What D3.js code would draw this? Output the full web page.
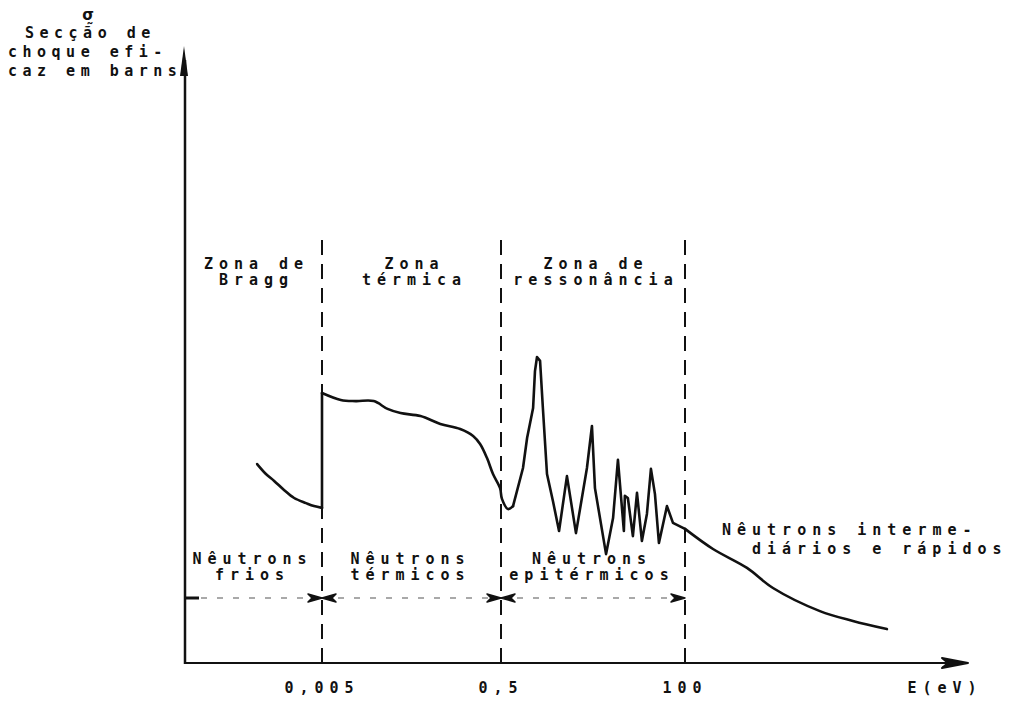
<!DOCTYPE html>
<html>
<head>
<meta charset="utf-8">
<script src="https://cdn.jsdelivr.net/npm/d3@7"></script>
<style>
  html, body { margin: 0; padding: 0; background: #fff; }
  svg { display: block; }
  .lbl { font-family: "DejaVu Sans Mono", "DejaVu Sans", monospace; font-weight: bold; font-size: 15px; fill: #111; letter-spacing: 6px; }
</style>
</head>
<body>
<svg id="chart" width="1021" height="701"></svg>
<script>
// Neutron energy (eV) and schematic cross-section sigma (barns, arbitrary units)
const energy = [0.00095, 0.00119, 0.00147, 0.00189, 0.00245, 0.00332, 0.00407, 0.005, 0.005,
  0.0081, 0.0119, 0.0189, 0.027, 0.0377, 0.063, 0.105, 0.175, 0.244, 0.292, 0.349, 0.407, 0.488,
  0.514, 0.612, 0.707, 0.942, 1.06, 1.26, 1.33, 1.41, 1.54, 1.67, 1.88, 2.23, 2.66, 3.34, 4.33,
  5.94, 6.86, 7.48, 10.3, 12.6, 14.5, 17.2, 17.7, 19.3, 22.3, 25.1, 28.9, 33.4, 37.5, 42.1, 47.2,
  59.5, 70.7, 84, 100, 224, 596, 1260, 4870, 12600, 33500];
const sigma = [6.63, 6.3, 6.07, 5.77, 5.5, 5.33, 5.23, 5.17, 9.0,
  8.77, 8.73, 8.73, 8.47, 8.33, 8.23, 7.97, 7.8, 7.57, 7.3, 6.83, 6.3, 5.83,
  5.47, 5.13, 5.23, 6.5, 7.5, 8.5, 9.73, 10.2, 10.07, 8.5, 6.3, 5.4, 4.4, 6.23, 4.33,
  6.5, 7.9, 5.83, 3.63, 4.83, 6.77, 4.4, 5.57, 5.5, 4.23, 5.67, 4.07, 4.97, 6.47, 5.63, 4.0,
  5.23, 4.67, 4.57, 4.47, 3.8, 3.17, 2.5, 1.73, 1.4, 1.13];

// Zone boundaries on the energy axis (eV) and their tick labels
const boundaries = [0.005, 0.5, 100];
const tickLabels = ["0,005", "0,5", "100"];
const axisEnds = [0.00015, 300000];
// Energy span drawn as a jagged resonance trace (eV)
const resonanceSpan = [0.707, 100];

const zoneNames = [["Zona de", "Bragg"], ["Zona", "térmica"], ["Zona de", "ressonância"]];
const neutronNames = [["Nêutrons", "frios"], ["Nêutrons", "térmicos"], ["Nêutrons", "epitérmicos"]];
const fastNames = ["Nêutrons interme-", "diários e rápidos"];
const yTitle = ["Secção de", "choque efi-", "caz em barns"];
const xTitle = "E(eV)";

const svg = d3.select("#chart");
const LS = 6; // letter spacing used by the labels

// Piecewise log scale: the schematic axis is not uniform across zones
const x = d3.scaleLog()
  .domain([axisEnds[0], boundaries[0], boundaries[1], boundaries[2], axisEnds[1]])
  .range([185, 322, 501, 685, 963]);
const y = d3.scaleLinear().domain([0, 20]).range([663, 63]);

const x0 = x(axisEnds[0]), y0 = y(0);

// Axes
svg.append("line").attr("x1", x0).attr("y1", y0 + 1).attr("x2", x0).attr("y2", 60)
  .attr("stroke", "#111").attr("stroke-width", 2.5);
svg.append("path").attr("d", `M${x0 - 1},46 L${x0 - 5},76 L${x0 + 3},76 Z`).attr("fill", "#111");
svg.append("line").attr("x1", x0 - 1).attr("y1", y0).attr("x2", 955).attr("y2", y0)
  .attr("stroke", "#111").attr("stroke-width", 2.2);
svg.append("path").attr("d", `M968,${y0} L942,${y0 - 5} L948,${y0} L942,${y0 + 5} Z`).attr("fill", "#111")
  .attr("stroke", "#111").attr("stroke-width", 2).attr("stroke-linejoin", "round");

// Zone boundaries (dashed)
svg.selectAll(".bound").data(boundaries).join("line")
  .attr("x1", d => x(d)).attr("x2", d => x(d))
  .attr("y1", 240).attr("y2", y0)
  .attr("stroke", "#111").attr("stroke-width", 2)
  .attr("stroke-dasharray", "15,9");

// Tick labels
svg.selectAll(".tick").data(boundaries).join("text")
  .attr("class", "lbl")
  .attr("x", d => x(d) + LS / 2 - 3).attr("y", 693)
  .attr("text-anchor", "middle")
  .text((d, i) => tickLabels[i]);
svg.append("text").attr("class", "lbl").attr("x", 942 + LS / 2).attr("y", 693)
  .attr("text-anchor", "middle").text(xTitle);

// Axis title: sigma with a tilde beneath, then the wrapped description
svg.append("text").attr("class", "lbl").attr("x", 88).attr("y", 20)
  .attr("text-anchor", "middle").style("letter-spacing", "0px")
  .style("font-family", "'DejaVu Sans', sans-serif").text("σ\u0330");
svg.selectAll(".ytitle").data(yTitle).join("text")
  .attr("class", "lbl")
  .style("letter-spacing", "5.5px")
  .attr("x", (d, i) => i === 0 ? 25 : 8)
  .attr("y", (d, i) => 38 + i * 19)
  .text(d => d);

// Band centres between consecutive edges
const edges = [axisEnds[0], ...boundaries];
const centres = boundaries.map((b, i) => (x(edges[i]) + x(b)) / 2);

// Zone names
zoneNames.forEach((lines, i) => {
  lines.forEach((t, j) => {
    svg.append("text").attr("class", "lbl")
      .attr("x", centres[i] + LS / 2).attr("y", 269 + j * 16)
      .attr("text-anchor", "middle").text(t);
  });
});

// Neutron class names
neutronNames.forEach((lines, i) => {
  lines.forEach((t, j) => {
    svg.append("text").attr("class", "lbl")
      .attr("x", centres[i] + LS / 2 - 4).attr("y", 564 + j * 16)
      .attr("text-anchor", "middle").text(t);
  });
});
fastNames.forEach((t, j) => {
  svg.append("text").attr("class", "lbl")
    .attr("x", x(boundaries[2]) + 37 + j * 30).attr("y", 535 + j * 19)
    .text(t);
});

// Range arrows below the class names
const arrowY = 598;
function arrowHead(px, dir) {
  svg.append("path")
    .attr("d", `M${px},${arrowY} L${px - dir * 14},${arrowY - 4} L${px - dir * 10},${arrowY} L${px - dir * 14},${arrowY + 4} Z`)
    .attr("fill", "#111").attr("stroke", "#111").attr("stroke-width", 1.5).attr("stroke-linejoin", "round");
}
boundaries.forEach((b, i) => {
  const a = x(edges[i]), c = x(b);
  svg.append("line").attr("x1", a).attr("x2", c).attr("y1", arrowY).attr("y2", arrowY)
    .attr("stroke", "#555").attr("stroke-width", 1.2).attr("stroke-dasharray", "6,10");
  arrowHead(c, 1);
  if (i > 0) arrowHead(a, -1);
});
svg.append("line").attr("x1", x0).attr("x2", x0 + 14).attr("y1", arrowY).attr("y2", arrowY)
  .attr("stroke", "#111").attr("stroke-width", 3);

// Cross-section curve: smooth pieces around a jagged resonance trace,
// with a vertical step at the Bragg cut-off
const pts = energy.map((e, i) => [e, sigma[i]]);
const cut = energy.findIndex((e, i) => i > 0 && e === energy[i - 1]);
const rs = energy.indexOf(resonanceSpan[0]);
const re = energy.indexOf(resonanceSpan[1]);
const smooth = d3.line().x(d => x(d[0])).y(d => y(d[1])).curve(d3.curveCatmullRom.alpha(0.5));
const straight = d3.line().x(d => x(d[0])).y(d => y(d[1]));
const pieces = [
  [pts.slice(0, cut), smooth],
  [pts.slice(cut - 1, cut + 1), straight],
  [pts.slice(cut, rs + 1), smooth],
  [pts.slice(rs, re + 1), straight],
  [pts.slice(re), smooth]
];
pieces.forEach(([seg, gen]) => {
  svg.append("path").datum(seg).attr("d", gen)
    .attr("fill", "none").attr("stroke", "#111").attr("stroke-width", 2.6)
    .attr("stroke-linejoin", "round").attr("stroke-linecap", "round");
});
</script>
</body>
</html>
